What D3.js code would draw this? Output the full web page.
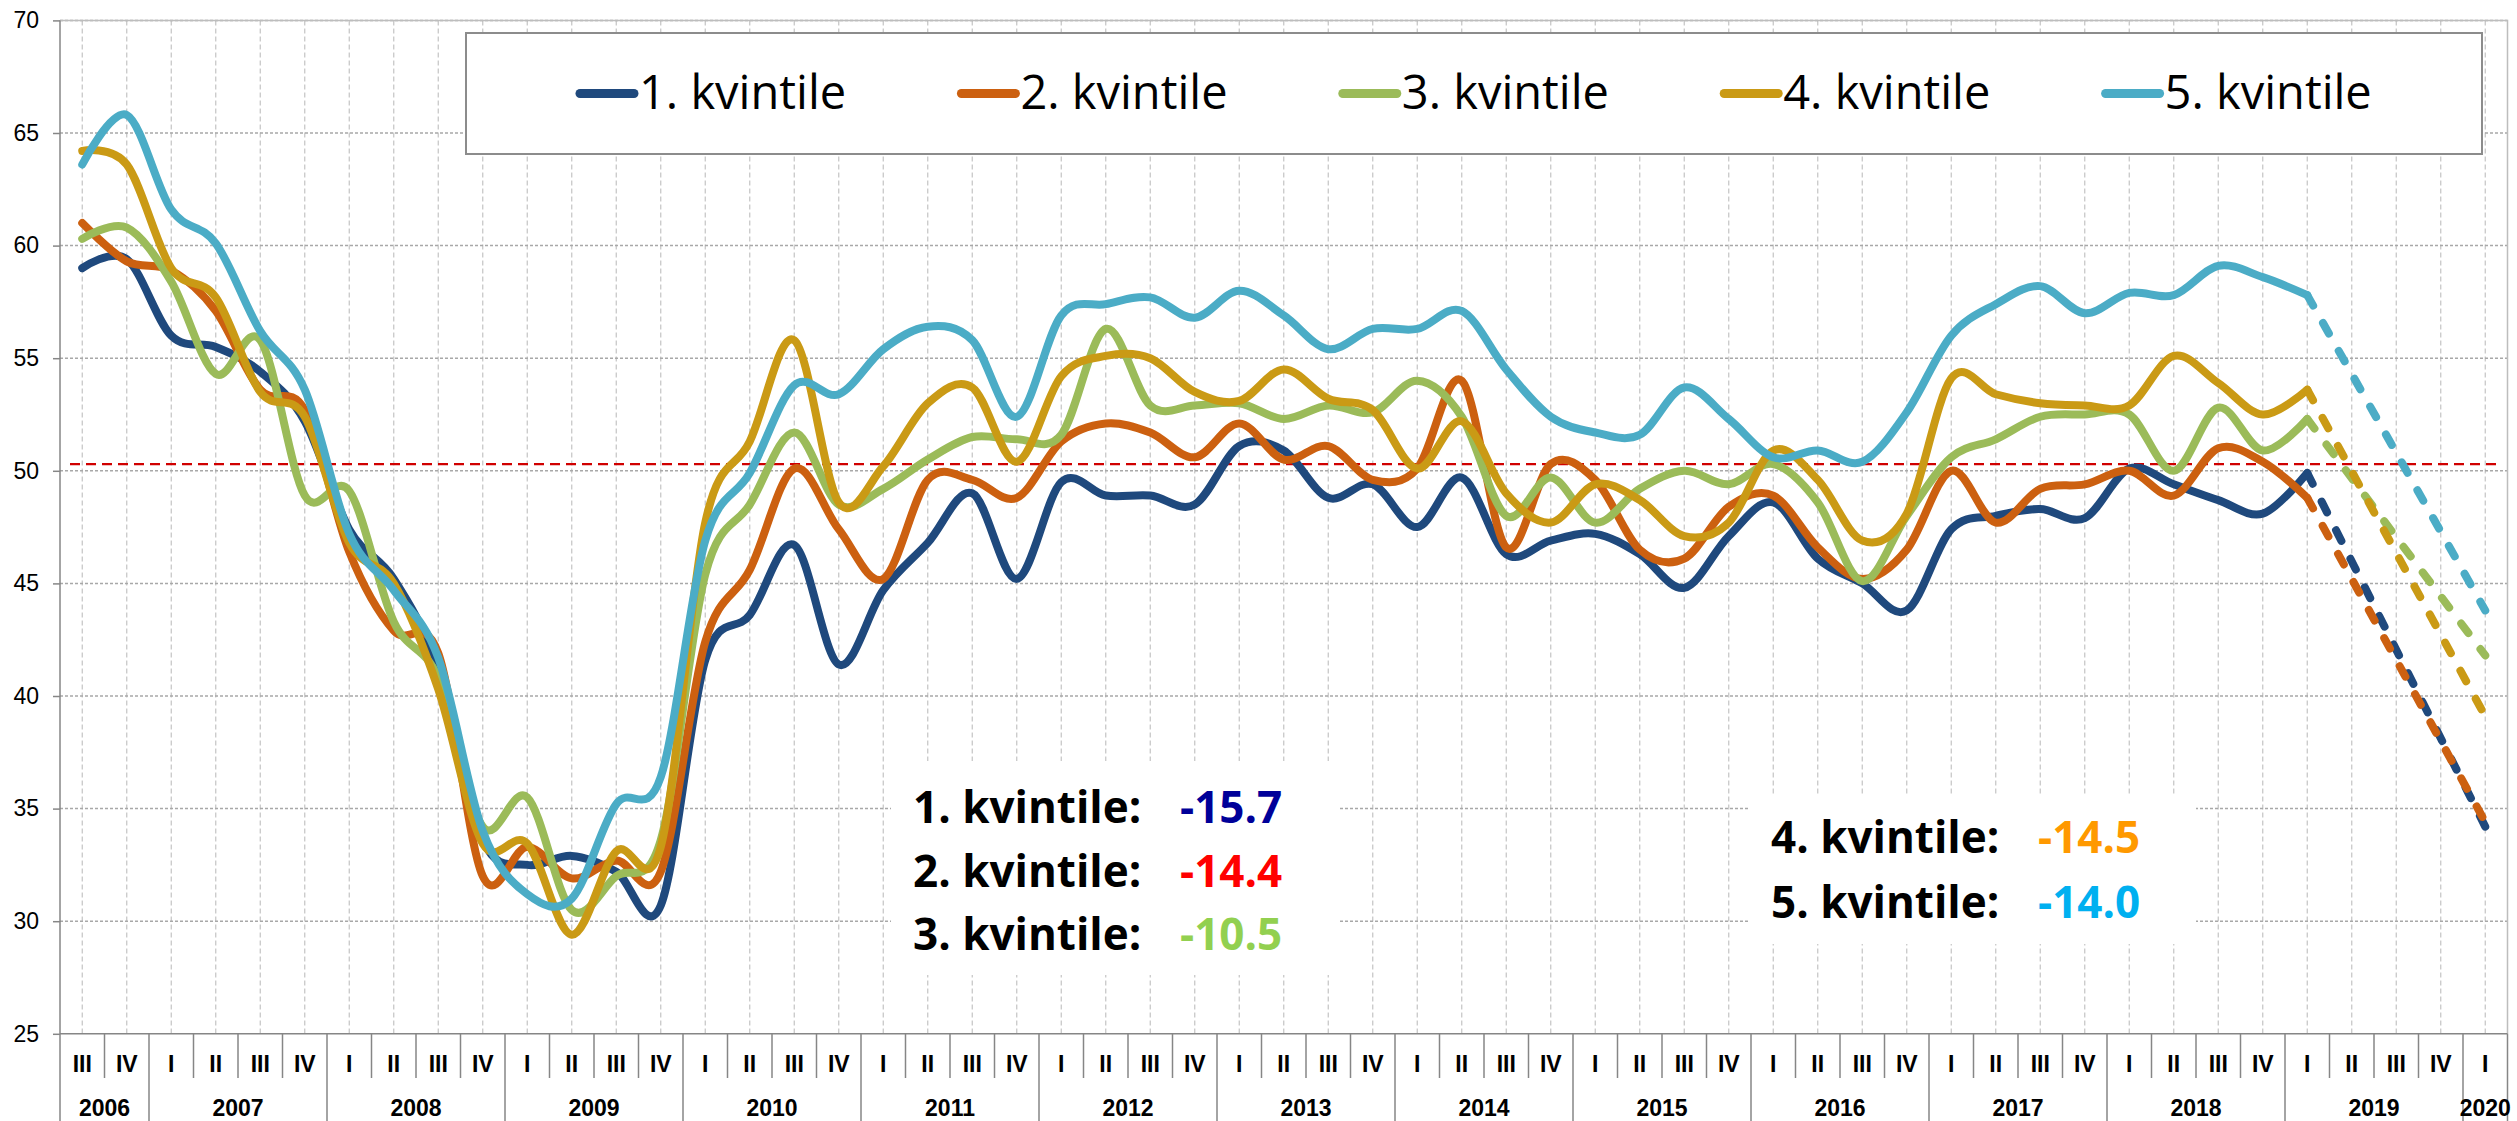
<!DOCTYPE html>
<html>
<head>
<meta charset="utf-8">
<script src="https://cdn.jsdelivr.net/npm/d3@7"></script>
<style>
  body { margin: 0; background: #fff; }
  svg { display: block; }
</style>
</head>
<body>
<div id="chartArea"></div>
<script>
var quarterLabels = ["III","IV",
  "I","II","III","IV", "I","II","III","IV", "I","II","III","IV", "I","II","III","IV",
  "I","II","III","IV", "I","II","III","IV", "I","II","III","IV", "I","II","III","IV",
  "I","II","III","IV", "I","II","III","IV", "I","II","III","IV", "I","II","III","IV",
  "I","II","III","IV", "I"];
var years = ["2006","2007","2008","2009","2010","2011","2012","2013","2014","2015","2016","2017","2018","2019","2020"];
var quartersPerYear = [2,4,4,4,4,4,4,4,4,4,4,4,4,4,1];
var yTicks = [25, 30, 35, 40, 45, 50, 55, 60, 65, 70];
var seriesNames = ["1. kvintile", "2. kvintile", "3. kvintile", "4. kvintile", "5. kvintile"];

// quarterly values 2006 III .. 2020 I, 2019 II-IV not given (dashed to 2020 I)
var q1 = [59.0,59.4, 56.0,55.5,54.4,52.2, 47.4,45.2,41.2,33.6, 32.5,32.9,32.2,30.7, 41.6,43.6,46.7,41.4,
  44.7,46.8,49.0,45.2, 49.5,48.9,48.9,48.5, 51.1,50.9,48.8,49.4, 47.5,49.7,46.3,46.9,
  47.2,46.3,44.8,47.1, 48.6,46.1,45.0,43.8, 47.4,48.0,48.3,47.9, 50.1,49.4,48.7,48.1,
  49.9,null,null,null, 34.2];
var q2 = [61.0,59.3, 58.9,57.1,53.6,52.7, 46.4,42.9,41.9,32.0, 33.3,31.9,32.7,32.2, 42.4,45.6,50.1,47.4,
  45.2,49.6,49.6,48.8, 51.3,52.1,51.7,50.6, 52.1,50.5,51.1,49.6, 50.1,54.0,46.6,50.3,
  49.6,46.5,46.1,48.4, 48.9,46.6,45.2,46.5, 50.0,47.7,49.2,49.4, 50.0,48.9,51.0,50.4,
  48.8,null,null,null, 34.4];
var q3 = [60.3,60.8, 58.4,54.3,55.8,48.9, 49.1,43.3,40.8,34.2, 35.5,30.5,32.0,33.6, 45.4,48.5,51.7,48.5,
  49.2,50.5,51.5,51.4, 51.6,56.3,52.9,52.9, 53.0,52.3,52.9,52.6, 54.0,52.4,48.0,49.7,
  47.7,49.2,50.0,49.4, 50.3,48.6,45.1,48.0, 50.6,51.4,52.4,52.5, 52.5,50.0,52.8,50.9,
  52.3,null,null,null, 41.8];
var q4 = [64.2,63.6, 59.0,57.7,53.5,52.4, 46.8,45.0,40.3,33.45, 33.45,29.4,33.1,33.3, 47.7,51.3,55.8,48.6,
  50.2,53.0,53.7,50.4, 54.2,55.1,55.0,53.5, 53.1,54.5,53.2,52.7, 50.1,52.2,49.0,47.7,
  49.4,48.7,47.1,47.7, 50.9,49.6,46.9,48.1, 54.1,53.4,53.0,52.9, 52.9,55.1,53.9,52.5,
  53.6,null,null,null, 39.1];
var q5 = [63.6,65.8, 61.6,60.1,56.2,53.6, 47.2,44.7,41.7,34.0, 31.2,31.0,35.2,36.4, 46.9,49.9,53.8,53.4,
  55.4,56.4,55.8,52.4, 56.9,57.4,57.7,56.8, 58.0,56.9,55.4,56.3, 56.3,57.1,54.5,52.4,
  51.7,51.6,53.7,52.3, 50.6,50.9,50.4,52.6, 56.0,57.4,58.2,57.0, 57.9,57.8,59.1,58.6,
  57.8,null,null,null, 43.8];
var seriesValues = [q1, q2, q3, q4, q5];
var seriesColors = ["#1F497D", "#CC6010", "#9BBB59", "#CA9A15", "#4BACC6"];

var refLevel = 50.3;
var changeLabels = ["-15.7", "-14.4", "-10.5", "-14.5", "-14.0"];
var changeColors = ["#000099", "#FF0000", "#92D050", "#FF9900", "#00B0F0"];

var width = 2517, height = 1121;
var plotLeft = 60, plotRight = 2507.5, plotTop = 20.4, plotBottom = 1033.8;
var lastSolid = 50, lastIndex = 54;

var svg = d3.select("#chartArea").append("svg")
    .attr("width", width)
    .attr("height", height)
    .style("font-family", "'Liberation Sans', Arial, sans-serif");

var x = d3.scaleBand()
    .domain(d3.range(quarterLabels.length))
    .range([plotLeft, plotRight])
    .padding(0);
var bw = x.bandwidth();
function cx(i) { return x(i) + bw / 2; }

var y = d3.scaleLinear().domain([25, 70]).range([plotBottom, plotTop]);

// grid
svg.append("g").selectAll("line")
    .data(quarterLabels)
   .enter().append("line")
    .attr("x1", function (d, i) { return cx(i); })
    .attr("x2", function (d, i) { return cx(i); })
    .attr("y1", plotTop)
    .attr("y2", plotBottom)
    .style("stroke", "#C4C4C4")
    .style("stroke-width", 1.2)
    .style("stroke-dasharray", "5,3");

svg.append("g").selectAll("line")
    .data(yTicks.slice(1))
   .enter().append("line")
    .attr("x1", plotLeft)
    .attr("x2", plotRight)
    .attr("y1", function (d) { return y(d); })
    .attr("y2", function (d) { return y(d); })
    .style("stroke", "#A8A8A8")
    .style("stroke-width", 1.5)
    .style("stroke-dasharray", "3,2");

// plot border top/right
svg.append("path")
    .attr("d", "M" + plotLeft + "," + plotTop + "H" + plotRight + "V" + plotBottom)
    .style("fill", "none")
    .style("stroke", "#BDBDBD")
    .style("stroke-width", 1.5);

// y axis
var yAxis = svg.append("g")
    .attr("transform", "translate(" + plotLeft + ",0)")
    .call(d3.axisLeft(y).tickValues(yTicks).tickSize(7).tickPadding(14).tickFormat(d3.format("d")));
yAxis.select(".domain").remove();
yAxis.selectAll(".tick line").style("stroke", "#868686").style("stroke-width", 1.5);
yAxis.selectAll(".tick text")
    .style("font-size", "23px")
    .style("font-family", "'Liberation Sans', Arial, sans-serif")
    .style("fill", "#000");

svg.append("line")
    .attr("x1", plotLeft).attr("x2", plotLeft)
    .attr("y1", plotTop).attr("y2", height)
    .style("stroke", "#868686").style("stroke-width", 1.5);

// x axis (two level)
svg.append("line")
    .attr("x1", plotLeft).attr("x2", plotRight)
    .attr("y1", plotBottom).attr("y2", plotBottom)
    .style("stroke", "#868686").style("stroke-width", 1.5);

var yearStart = [];
var acc = 0;
quartersPerYear.forEach(function (n) { yearStart.push(acc); acc += n; });

svg.append("g").selectAll("line")
    .data(d3.range(1, quarterLabels.length + 1))
   .enter().append("line")
    .attr("x1", function (k) { return plotLeft + k * bw; })
    .attr("x2", function (k) { return plotLeft + k * bw; })
    .attr("y1", plotBottom)
    .attr("y2", function (k) {
        return (yearStart.indexOf(k) >= 0 || k == quarterLabels.length) ? height : 1078;
    })
    .style("stroke", "#868686")
    .style("stroke-width", 1.5);

svg.append("g").selectAll("text")
    .data(quarterLabels)
   .enter().append("text")
    .attr("x", function (d, i) { return cx(i); })
    .attr("y", 1072)
    .attr("text-anchor", "middle")
    .style("font-size", "23px")
    .style("font-weight", "bold")
    .text(function (d) { return d; });

svg.append("g").selectAll("text")
    .data(years)
   .enter().append("text")
    .attr("x", function (d, j) {
        return plotLeft + (yearStart[j] + quartersPerYear[j] / 2) * bw;
    })
    .attr("y", 1116)
    .attr("text-anchor", "middle")
    .style("font-size", "23px")
    .style("font-weight", "bold")
    .text(function (d) { return d; });

// reference line
svg.append("line")
    .attr("x1", 70).attr("x2", 2500)
    .attr("y1", y(refLevel)).attr("y2", y(refLevel))
    .style("stroke", "#D00000")
    .style("stroke-width", 2.2)
    .style("stroke-dasharray", "10,6");

// series
var solidLine = d3.line()
    .x(function (d) { return cx(d.i); })
    .y(function (d) { return y(d.v); })
    .curve(d3.curveCardinal.tension(0));
var straightLine = d3.line()
    .x(function (d) { return cx(d.i); })
    .y(function (d) { return y(d.v); });

seriesValues.forEach(function (vals, s) {
    var pts = vals.map(function (v, i) { return {i: i, v: v}; });
    var solid = pts.filter(function (d) { return d.i <= lastSolid; });
    var dashed = [pts[lastSolid], pts[lastIndex]];

    svg.append("path")
        .attr("d", straightLine(dashed))
        .style("fill", "none")
        .style("stroke", seriesColors[s])
        .style("stroke-width", 8)
        .style("stroke-linecap", "round")
        .style("stroke-dasharray", "12,20");

    svg.append("path")
        .attr("d", solidLine(solid))
        .style("fill", "none")
        .style("stroke", seriesColors[s])
        .style("stroke-width", 8)
        .style("stroke-linecap", "round")
        .style("stroke-linejoin", "round");
});

// legend
svg.append("rect")
    .attr("x", 466).attr("y", 33)
    .attr("width", 2016).attr("height", 121)
    .style("fill", "#fff")
    .style("stroke", "#8C8C8C")
    .style("stroke-width", 2);

var legend = svg.append("g").selectAll("g")
    .data(seriesNames)
   .enter().append("g")
    .attr("transform", function (d, i) { return "translate(" + (580 + i * 381.4) + ",0)"; });

legend.append("line")
    .attr("x1", 0).attr("x2", 54)
    .attr("y1", 93.5).attr("y2", 93.5)
    .style("stroke", function (d, i) { return seriesColors[i]; })
    .style("stroke-width", 9)
    .style("stroke-linecap", "round");

legend.append("text")
    .attr("x", 59)
    .attr("y", 109)
    .style("font-family", "'Open Sans', 'Noto Sans', sans-serif")
    .style("font-size", "47px")
    .style("fill", "#000")
    .text(function (d) { return d; });

// change annotations
var notes = [
    {box: [891, 761, 447, 214], x: 913, rows: [0, 1, 2], base: 823, step: 63.5},
    {box: [1748, 794, 448, 150], x: 1771, rows: [3, 4], base: 852.5, step: 65.3}
];

notes.forEach(function (n) {
    svg.append("rect")
        .attr("x", n.box[0]).attr("y", n.box[1])
        .attr("width", n.box[2]).attr("height", n.box[3])
        .style("fill", "#fff");

    n.rows.forEach(function (s, k) {
        var t = svg.append("text")
            .attr("y", n.base + k * n.step)
            .style("font-family", "'Open Sans', 'Noto Sans', sans-serif")
            .style("font-size", "44px")
            .style("font-weight", "bold");
        t.append("tspan")
            .attr("x", n.x)
            .style("fill", "#000")
            .text(seriesNames[s] + ":");
        t.append("tspan")
            .attr("x", n.x + 267)
            .style("fill", changeColors[s])
            .text(changeLabels[s]);
    });
});
</script>
</body>
</html>
